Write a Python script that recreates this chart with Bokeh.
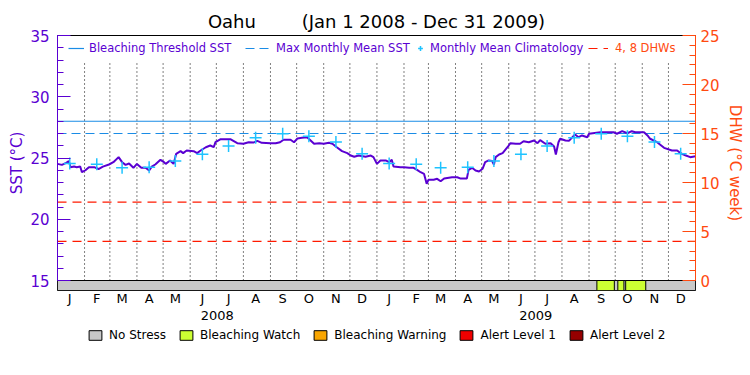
import pandas as pd
from bokeh.plotting import figure
from bokeh.layouts import column
from bokeh.models import Range1d, LinearAxis, FixedTicker, Legend, LegendItem, ColumnDataSource
from bokeh.embed import file_html
from bokeh.resources import INLINE

# ---------------- data ----------------
site = "Oahu"
period_start = "2008-01-01"
period_end = "2010-01-01"

# daily SST (days since 2008-01-01, deg C)
sst_day = [0, 5, 10, 13, 15, 19, 22, 26, 28, 32, 36, 42, 47, 52, 59, 64, 70, 74, 78, 82,
           87, 91, 96, 101, 105, 108, 112, 118, 122, 124, 129, 133, 136, 141, 144, 148, 156, 160, 164, 170,
           175, 179, 181, 187, 198, 206, 213, 219, 225, 229, 234, 244, 250, 255, 259, 267, 271, 275, 280, 286,
           290, 294, 300, 305, 311, 315, 320, 326, 332, 336, 340, 345, 353, 359, 362,
           366, 370, 376, 380, 383, 385, 393, 397, 403, 408, 412, 416, 420, 423, 425, 431, 435, 439, 443, 452,
           458, 462, 469, 471, 475, 479, 483, 487, 490, 494, 498, 500, 502, 506, 510, 513, 517, 519, 525, 530,
           534, 540, 546, 550, 553, 559, 565, 569, 571, 574, 576, 582, 586, 590, 593, 597, 601, 607, 609, 622,
           637, 641, 647, 653, 658, 662, 672, 676, 679, 687, 695, 704, 710, 714, 720, 725, 731]
sst_value = [24.52, 24.44, 24.6, 24.74, 24.25, 24.3, 24.25, 24.3, 23.84, 24.0, 24.25, 24.25, 24.1, 24.3, 24.47, 24.66, 25.07, 24.66, 24.44, 24.55,
             24.2, 24.52, 24.2, 24.2, 23.98, 24.3, 24.47, 24.85, 24.66, 24.52, 24.8, 24.52, 25.34, 25.56, 25.4, 25.61, 25.56, 25.4, 25.61, 25.88,
             26.02, 25.88, 26.29, 26.54, 26.54, 26.21, 26.16, 26.29, 26.27, 26.4, 26.24, 26.2, 26.2, 26.29, 26.49, 26.49, 26.29, 26.6, 26.65, 26.7,
             26.43, 26.16, 26.2, 26.16, 26.24, 26.16, 25.88, 25.56, 25.4, 25.2, 25.1, 25.2, 25.1, 25.2, 25.07,
             24.52, 24.8, 24.8, 24.66, 24.85, 24.3, 24.25, 24.25, 24.2, 24.2, 24.03, 23.84, 23.7, 22.9, 23.22, 23.22, 23.3, 23.1, 23.32, 23.43,
             23.43, 23.32, 23.32, 24.03, 24.2, 23.98, 23.9, 24.12, 24.66, 24.8, 24.75, 24.47, 25.07, 25.29, 25.4, 25.67, 26.02, 26.21, 26.16, 26.16,
             26.37, 26.29, 26.43, 26.21, 26.46, 26.16, 26.21, 25.94, 25.29, 26.29, 26.57, 26.43, 26.4, 26.7, 26.92, 26.7, 26.84, 26.7, 26.98, 27.1,
             27.1, 26.98, 27.19, 27.02, 27.19, 27.1, 27.1, 26.84, 26.57, 26.29, 25.83, 25.61, 25.61, 25.39, 25.2, 25.07, 25.15]

# monthly mean climatology, Jan..Dec (deg C)
clim_value = [24.55, 24.5, 24.2, 24.25, 24.75, 25.3, 25.97, 26.65, 26.98, 26.78, 26.3, 25.34]
month_letters = ["J", "F", "M", "A", "M", "J", "J", "A", "S", "O", "N", "D"]
years = [2008, 2009]

threshold_sst = 28.0
mmm_sst = 27.0
dhw_marks = [4, 8]

stress_names = ["No Stress", "Bleaching Watch", "Bleaching Warning", "Alert Level 1", "Alert Level 2"]
stress_colors = ["#c8c8c8", "#ccff33", "#f9a602", "#f00000", "#960000"]
stress_start = ["2008-01-01", "2009-09-10", "2009-10-04", "2009-10-13"]
stress_end = ["2010-01-01", "2009-09-30", "2009-10-11", "2009-11-05"]
stress_level = [0, 1, 1, 1]

sst_ticks = [15, 20, 25, 30, 35]
dhw_ticks = [0, 5, 10, 15, 20, 25]

# ---------------- styling ----------------
PURPLE = "#5a00d2"
BLUE = "#1a8ce6"
CYAN = "#1ec3ff"
ORANGE = "#ff4a10"
DHWRED = "#ff1a00"
FONT = "DejaVu Sans"

t0 = pd.Timestamp(period_start)


def dayof(s):
    return (pd.Timestamp(s) - t0).days


total_days = dayof(period_end)
month_starts = pd.date_range(period_start, period_end, freq="MS")[:-1]
month_start_days = [dayof(m) for m in month_starts]
month_mid_days = [d + 14 for d in month_start_days]
month_overrides = {d: month_letters[i % 12] for i, d in enumerate(month_mid_days)}
year_mid_days = [(dayof(f"{y}-01-01") + dayof(f"{y + 1}-01-01")) // 2 for y in years]
year_overrides = {d: str(y) for d, y in zip(year_mid_days, years)}

sst_lo, sst_hi = sst_ticks[0], sst_ticks[-1]
dhw_lo, dhw_hi = dhw_ticks[0], dhw_ticks[-1]
bar_depth = 0.816  # stress bar below the SST axis floor
y_start = sst_lo - bar_depth
dhw_per_sst = (dhw_hi - dhw_lo) / (sst_hi - sst_lo)
dhw_start = dhw_lo - bar_depth * dhw_per_sst

FRAME_W, FRAME_H = 638, 255
B_LEFT, B_RIGHT = 57, 54
p = figure(frame_width=FRAME_W, frame_height=FRAME_H,
           x_range=Range1d(0, total_days), y_range=Range1d(y_start, sst_hi),
           x_axis_type=None, y_axis_type=None,
           output_backend="svg", toolbar_location=None,
           min_border_left=B_LEFT, min_border_right=B_RIGHT, min_border_top=35, min_border_bottom=38,
           background_fill_color="white", border_fill_color="white")
p.outline_line_color = "black"
p.outline_line_width = 1
p.extra_y_ranges = {"dhw": Range1d(dhw_start, dhw_hi)}

p.title.text = site + "\u00a0" * 8 + "(Jan 1 2008 - Dec 31 2009)"
p.title.align = "center"
p.title.text_font = FONT
p.title.text_font_size = "18px"
p.title.text_font_style = "normal"
p.title.text_color = "black"
p.title.standoff = 8

# month grid (dotted)
grid_days = month_start_days[1:]
p.segment(x0=grid_days, x1=grid_days, y0=[sst_lo] * len(grid_days), y1=[32.8] * len(grid_days),
          line_color="black", line_width=1, line_dash="1 3")

# stress bar
for lvl, col in enumerate(stress_colors):
    idx = [i for i, l in enumerate(stress_level) if l == lvl]
    src = ColumnDataSource(dict(left=[dayof(stress_start[i]) for i in idx],
                                right=[dayof(stress_end[i]) for i in idx],
                                bottom=[y_start] * len(idx), top=[sst_lo] * len(idx)))
    p.quad(left="left", right="right", bottom="bottom", top="top", source=src,
           fill_color=col, line_color="black", line_width=1)

# reference lines
r_thr = p.line(x=[0, total_days], y=[threshold_sst] * 2, line_color=BLUE, line_width=1.2)
r_mmm = p.line(x=[0, total_days], y=[mmm_sst] * 2, line_color=BLUE, line_width=1.2, line_dash="9 5")
r_dhw = []
for d in dhw_marks:
    r_dhw.append(p.line(x=[0, total_days], y=[d] * 2, y_range_name="dhw",
                        line_color=DHWRED, line_width=1.2, line_dash="9 6"))

# SST line and climatology
p.line(x=sst_day, y=sst_value, line_color=PURPLE, line_width=2)
r_clim = p.scatter(x=month_mid_days, y=clim_value * len(years), marker="cross", size=12,
                   line_color=CYAN, line_width=1.5)

# axes
ax_l = LinearAxis(ticker=FixedTicker(ticks=sst_ticks, minor_ticks=list(range(sst_lo, sst_hi + 1))),
                  bounds=(sst_lo, sst_hi), axis_label="SST (\u00b0C)")
ax_r = LinearAxis(y_range_name="dhw",
                  ticker=FixedTicker(ticks=dhw_ticks, minor_ticks=list(range(dhw_lo, dhw_hi + 1))),
                  bounds=(dhw_lo, dhw_hi), axis_label="DHW (\u00b0C week)")
for ax, col in ((ax_l, PURPLE), (ax_r, ORANGE)):
    ax.axis_line_color = col
    ax.major_tick_line_color = col
    ax.minor_tick_line_color = col
    ax.major_label_text_color = col
    ax.axis_label_text_color = col
    ax.major_label_text_font = FONT
    ax.axis_label_text_font = FONT
    ax.major_label_text_font_size = "15px"
    ax.axis_label_text_font_size = "15px"
    ax.axis_label_text_font_style = "normal"
    ax.major_tick_in = 13
    ax.major_tick_out = 0
    ax.minor_tick_in = 6
    ax.minor_tick_out = 0
ax_l.major_label_standoff = 8
ax_l.axis_label_standoff = 1
ax_r.major_label_standoff = 5
ax_r.axis_label_standoff = 3
p.add_layout(ax_l, "left")
p.add_layout(ax_r, "right")

ax_m = LinearAxis(ticker=FixedTicker(ticks=month_mid_days, minor_ticks=[]),
                  major_label_overrides=month_overrides)
ax_y = LinearAxis(ticker=FixedTicker(ticks=year_mid_days, minor_ticks=[]),
                  major_label_overrides=year_overrides)
for ax in (ax_m, ax_y):
    ax.axis_line_color = None
    ax.major_tick_line_color = None
    ax.minor_tick_line_color = None
    ax.major_tick_in = 0
    ax.major_tick_out = 0
    ax.minor_tick_out = 0
    ax.major_label_text_font = FONT
    ax.major_label_text_font_size = "13px"
    ax.major_label_text_color = "black"
    ax.major_label_standoff = 0
ax_y.major_label_standoff = 2
p.add_layout(ax_m, "below")
p.add_layout(ax_y, "below")

# top legends (one per item, placed along the top of the frame)
top_items = [
    ("Bleaching Threshold SST", [r_thr], 11, 16, 5, PURPLE),
    ("Max Monthly Mean SST", [r_mmm], 188, 25, 6, PURPLE),
    ("Monthly Mean Climatology", [r_clim], 357, 12, 4, PURPLE),
    ("4, 8 DHWs", r_dhw[:1], 531, 20, 7, ORANGE),
]
for label, rends, xloc, gw, stand, tcol in top_items:
    lg = Legend(items=[LegendItem(label=label, renderers=rends)], location=(xloc, FRAME_H - 20),
                glyph_width=gw, glyph_height=12, label_standoff=stand, label_height=14,
                label_text_font=FONT, label_text_font_size="11.5px", label_text_color=tcol,
                padding=0, margin=0, border_line_color=None, background_fill_alpha=0)
    p.add_layout(lg, "center")

# ---------------- stress legend strip below the chart ----------------
# key swatches: one per stress level, kept outside the strip's visible range
LEG_H = 40
n_levels = len(stress_names)
q = figure(frame_width=B_LEFT + FRAME_W + B_RIGHT, frame_height=LEG_H,
           x_range=Range1d(-2 * n_levels, -n_levels), y_range=Range1d(0, 1),
           x_axis_type=None, y_axis_type=None,
           output_backend="svg", toolbar_location=None,
           min_border_left=0, min_border_right=0, min_border_top=0, min_border_bottom=0,
           background_fill_color="white", border_fill_color="white")
q.outline_line_color = None
key_renderers = []
for lvl, col in enumerate(stress_colors):
    key_renderers.append(q.quad(left=[lvl], right=[lvl + 1], bottom=[0], top=[1],
                                fill_color=col, line_color="black", line_width=1))
leg_b = Legend(items=[LegendItem(label=n, renderers=[r]) for n, r in zip(stress_names, key_renderers)],
               orientation="horizontal", location=(87, LEG_H - 14),
               glyph_width=16, glyph_height=12, label_standoff=6, label_height=14, spacing=12,
               label_text_font=FONT, label_text_font_size="12px", label_text_color="black",
               padding=0, margin=0, border_line_color=None, background_fill_alpha=0)
q.add_layout(leg_b, "center")

layout = column(p, q, spacing=0)
open("out.html", "w").write(file_html(layout, INLINE))
